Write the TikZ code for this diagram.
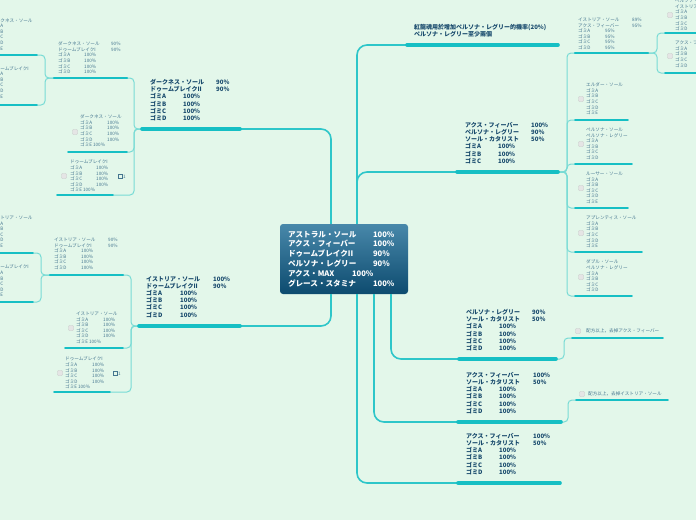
\documentclass[tikz,border=0pt]{standalone}
\usepackage{fontspec}
\setmainfont{Noto Sans CJK JP}
\usepackage{tikz}

\definecolor{mint}{HTML}{E3F7EA}
\definecolor{tealbar}{HTML}{16BFC4}
\definecolor{teallink}{HTML}{2EC6C9}
\definecolor{tealsub}{HTML}{78DBD5}
\definecolor{ink}{HTML}{17496C}
\definecolor{inklight}{HTML}{44758F}
\newcommand{\kv}[3]{\makebox[#1pt][l]{#2}#3}

\begin{document}
\begin{tikzpicture}[x=1pt, y=-1pt,
    hub/.style={rounded corners=3pt, top color={rgb,255:red,72;green,136;blue,170}, bottom color={rgb,255:red,13;green,75;blue,111},
      text=white, font=\fontsize{7.6}{9.8}\selectfont\bfseries, align=left, text width=112pt, inner xsep=8pt, minimum height=70pt},
    topic/.style={anchor=north west, inner sep=0, align=left, text=ink, font=\fontsize{6}{7.2}\selectfont\bfseries},
    leaf/.style={anchor=north west, inner sep=0, align=left, text=inklight, font=\fontsize{4.6}{5.6}\selectfont},
    bar/.style={line width=3.6pt, tealbar, line cap=round},
    subbar/.style={line width=2.4pt, tealbar, line cap=round},
    twig/.style={line width=1.8pt, tealbar, line cap=round},
    link/.style={line width=1.6pt, teallink, rounded corners=10pt},
    sublink/.style={line width=1pt, tealsub, rounded corners=4pt},
    tick/.style={draw=black!22, fill=black!10, rounded corners=0.8pt, minimum size=5pt, inner sep=0},
    memo/.style={draw=inklight, line width=0.4pt, inner sep=0, minimum width=4pt, minimum height=3.4pt}]

  % Background
  \fill[mint] (0,0) rectangle (696,520);
  \useasboundingbox (0,0) rectangle (696,520);

  % Central topic
  \node[hub] (hub) at (344,259) {\kv{85}{アストラル・ソール}{100\%}\\ \kv{85}{アクス・フィーバー}{100\%}\\
    \kv{85}{ドゥームブレイクII}{90\%}\\ \kv{85}{ペルソナ・レグリー}{90\%}\\ \kv{64}{アクス・MAX}{100\%}\\
    \kv{85}{グレース・スタミナ}{100\%}};

  % Underline end points
  \coordinate (dk-w) at (142,129);  \coordinate (dk-e) at (240,129);
  \coordinate (is-w) at (139,326);  \coordinate (is-e) at (240,326);
  \coordinate (rd-w) at (407,45);   \coordinate (rd-e) at (558,45);
  \coordinate (ax1-w) at (457,172); \coordinate (ax1-e) at (558,172);
  \coordinate (ps-w) at (459,359);  \coordinate (ps-e) at (556,359);
  \coordinate (ax2-w) at (458,422); \coordinate (ax2-e) at (561,422);
  \coordinate (ax3-w) at (458,483); \coordinate (ax3-e) at (560,483);
  \coordinate (d1-w) at (54,78);    \coordinate (d1-e) at (127,78);
  \coordinate (d2-w) at (68,152);   \coordinate (d2-e) at (127,152);
  \coordinate (d3-w) at (57,195);   \coordinate (d3-e) at (113,195);
  \coordinate (f1-w) at (-10,55);   \coordinate (f1-e) at (37,55);
  \coordinate (f2-w) at (-10,105);  \coordinate (f2-e) at (37,105);
  \coordinate (i1-w) at (50,275);   \coordinate (i1-e) at (123,275);
  \coordinate (i2-w) at (65,348);   \coordinate (i2-e) at (123,348);
  \coordinate (i3-w) at (54,392);   \coordinate (i3-e) at (110,392);
  \coordinate (g1-w) at (-10,253);  \coordinate (g1-e) at (33,253);
  \coordinate (g2-w) at (-10,302);  \coordinate (g2-e) at (33,302);
  \coordinate (s0-w) at (575,53);   \coordinate (s0-e) at (648,53);
  \coordinate (s1-w) at (575,120);  \coordinate (s1-e) at (628,120);
  \coordinate (s2-w) at (575,164);  \coordinate (s2-e) at (632,164);
  \coordinate (s3-w) at (575,208);  \coordinate (s3-e) at (628,208);
  \coordinate (s4-w) at (575,252);  \coordinate (s4-e) at (642,252);
  \coordinate (s5-w) at (575,296);  \coordinate (s5-e) at (632,296);
  \coordinate (t1-w) at (665,33);   \coordinate (t1-e) at (706,33);
  \coordinate (t2-w) at (665,73);   \coordinate (t2-e) at (706,73);
  \coordinate (n1-w) at (572,338);  \coordinate (n1-e) at (663,338);
  \coordinate (n2-w) at (576,400);  \coordinate (n2-e) at (668,400);

  % Links from the central topic
  \draw[link] ([xshift=-13pt]hub.north) |- (dk-e);
  \draw[link] ([xshift=13pt]hub.north) |- (ax1-w);
  \draw[link] ([xshift=13pt]hub.north) |- (rd-w);
  \draw[link] ([xshift=-13pt]hub.south) |- (is-e);
  \draw[link] ([xshift=13pt]hub.south) |- (ax3-w);
  \draw[link] ([xshift=30pt]hub.south) |- (ax2-w);
  \draw[link] ([xshift=47pt]hub.south) |- (ps-w);

  % Links to subtopics
  \draw[sublink] (dk-w) -- ++(-8,0) |- (d1-e);
  \draw[sublink] (dk-w) -- ++(-8,0) |- (d2-e);
  \draw[sublink] (dk-w) -- ++(-8,0) |- (d3-e);
  \draw[sublink] (d1-w) -- ++(-9,0) |- (f1-e);
  \draw[sublink] (d1-w) -- ++(-9,0) |- (f2-e);
  \draw[sublink] (is-w) -- ++(-8,0) |- (i1-e);
  \draw[sublink] (is-w) -- ++(-8,0) |- (i2-e);
  \draw[sublink] (is-w) -- ++(-8,0) |- (i3-e);
  \draw[sublink] (i1-w) -- ++(-9,0) |- (g1-e);
  \draw[sublink] (i1-w) -- ++(-9,0) |- (g2-e);
  \draw[sublink] (ax1-e) -- ++(9,0) |- (s0-w);
  \draw[sublink] (ax1-e) -- ++(9,0) |- (s1-w);
  \draw[sublink] (ax1-e) -- ++(9,0) |- (s2-w);
  \draw[sublink] (ax1-e) -- ++(9,0) |- (s3-w);
  \draw[sublink] (ax1-e) -- ++(9,0) |- (s4-w);
  \draw[sublink] (ax1-e) -- ++(9,0) |- (s5-w);
  \draw[sublink] (s0-e) -- ++(9,0) |- (t1-w);
  \draw[sublink] (s0-e) -- ++(9,0) |- (t2-w);
  \draw[sublink] (ps-e) -- ++(8,0) |- (n1-w);
  \draw[sublink] (ax2-e) -- ++(7,0) |- (n2-w);

  % Underlines
  \draw[bar] (dk-w) -- (dk-e);
  \draw[bar] (is-w) -- (is-e);
  \draw[bar] (rd-w) -- (rd-e);
  \draw[bar] (ax1-w) -- (ax1-e);
  \draw[bar] (ps-w) -- (ps-e);
  \draw[bar] (ax2-w) -- (ax2-e);
  \draw[bar] (ax3-w) -- (ax3-e);
  \draw[subbar] (d1-w) -- (d1-e);
  \draw[subbar] (i1-w) -- (i1-e);
  \draw[subbar] (s0-w) -- (s0-e);
  \draw[twig] (d2-w) -- (d2-e);   \draw[twig] (d3-w) -- (d3-e);
  \draw[twig] (f1-w) -- (f1-e);   \draw[twig] (f2-w) -- (f2-e);
  \draw[twig] (i2-w) -- (i2-e);   \draw[twig] (i3-w) -- (i3-e);
  \draw[twig] (g1-w) -- (g1-e);   \draw[twig] (g2-w) -- (g2-e);
  \draw[twig] (s1-w) -- (s1-e);   \draw[twig] (s2-w) -- (s2-e);
  \draw[twig] (s3-w) -- (s3-e);   \draw[twig] (s4-w) -- (s4-e);
  \draw[twig] (s5-w) -- (s5-e);   \draw[twig] (t1-w) -- (t1-e);
  \draw[twig] (t2-w) -- (t2-e);   \draw[twig] (n1-w) -- (n1-e);
  \draw[twig] (n2-w) -- (n2-e);

  % Main topics
  \node[topic] (rd) at (414,24) {紅龍魂用於增加ペルソナ・レグリー的機率(20\%)\\ ペルソナ・レグリー至少兩個};
  \node[topic] (dk) at (150,79) {\kv{66}{ダークネス・ソール}{90\%}\\ \kv{66}{ドゥームブレイクII}{90\%}\\
    \kv{33}{ゴミA}{100\%}\\ \kv{33}{ゴミB}{100\%}\\ \kv{33}{ゴミC}{100\%}\\ \kv{33}{ゴミD}{100\%}};
  \node[topic] (is) at (146,276) {\kv{67}{イストリア・ソール}{100\%}\\ \kv{67}{ドゥームブレイクII}{90\%}\\
    \kv{34}{ゴミA}{100\%}\\ \kv{34}{ゴミB}{100\%}\\ \kv{34}{ゴミC}{100\%}\\ \kv{34}{ゴミD}{100\%}};
  \node[topic] (ax1) at (465,122) {\kv{66}{アクス・フィーバー}{100\%}\\ \kv{66}{ペルソナ・レグリー}{90\%}\\
    \kv{66}{ソール・カタリスト}{50\%}\\ \kv{33}{ゴミA}{100\%}\\ \kv{33}{ゴミB}{100\%}\\ \kv{33}{ゴミC}{100\%}};
  \node[topic] (ps) at (466,309) {\kv{66}{ペルソナ・レグリー}{90\%}\\ \kv{66}{ソール・カタリスト}{50\%}\\
    \kv{33}{ゴミA}{100\%}\\ \kv{33}{ゴミB}{100\%}\\ \kv{33}{ゴミC}{100\%}\\ \kv{33}{ゴミD}{100\%}};
  \node[topic] (ax2) at (466,372) {\kv{67}{アクス・フィーバー}{100\%}\\ \kv{67}{ソール・カタリスト}{50\%}\\
    \kv{33}{ゴミA}{100\%}\\ \kv{33}{ゴミB}{100\%}\\ \kv{33}{ゴミC}{100\%}\\ \kv{33}{ゴミD}{100\%}};
  \node[topic] (ax3) at (466,433) {\kv{67}{アクス・フィーバー}{100\%}\\ \kv{67}{ソール・カタリスト}{50\%}\\
    \kv{33}{ゴミA}{100\%}\\ \kv{33}{ゴミB}{100\%}\\ \kv{33}{ゴミC}{100\%}\\ \kv{33}{ゴミD}{100\%}};

  % Subtopics, left
  \node[leaf] (d1) at (58,41.7) {\kv{53}{ダークネス・ソール}{90\%}\\ \kv{53}{ドゥームブレイクI}{90\%}\\
    \kv{26}{ゴミA}{100\%}\\ \kv{26}{ゴミB}{100\%}\\ \kv{26}{ゴミC}{100\%}\\ \kv{26}{ゴミD}{100\%}};
  \node[leaf] (d2) at (80,114.7) {ダークネス・ソール\\ \kv{27}{ゴミA}{100\%}\\ \kv{27}{ゴミB}{100\%}\\
    \kv{27}{ゴミC}{100\%}\\ \kv{27}{ゴミD}{100\%}\\ ゴミE 100\%};
  \node[leaf] (d3) at (70,159.7) {ドゥームブレイクI\\ \kv{26}{ゴミA}{100\%}\\ \kv{26}{ゴミB}{100\%}\\
    \kv{26}{ゴミC}{100\%}\\ \kv{26}{ゴミD}{100\%}\\ ゴミE 100\%};
  \node[leaf] (f1) at (-9,12.7) {1号\\ ダークネス・ソール\\ ゴミA\\ ゴミB\\ ゴミC\\ ゴミD\\ ゴミE};
  \node[leaf] (f2) at (-9,60.7) {2号\\ ドゥームブレイクI\\ ゴミA\\ ゴミB\\ ゴミC\\ ゴミD\\ ゴミE};
  \node[leaf] (i1) at (54,237.7) {\kv{54}{イストリア・ソール}{90\%}\\ \kv{54}{ドゥームブレイクI}{90\%}\\
    \kv{27}{ゴミA}{100\%}\\ \kv{27}{ゴミB}{100\%}\\ \kv{27}{ゴミC}{100\%}\\ \kv{27}{ゴミD}{100\%}};
  \node[leaf] (i2) at (76,311.7) {イストリア・ソール\\ \kv{27}{ゴミA}{100\%}\\ \kv{27}{ゴミB}{100\%}\\
    \kv{27}{ゴミC}{100\%}\\ \kv{27}{ゴミD}{100\%}\\ ゴミE 100\%};
  \node[leaf] (i3) at (65,356.7) {ドゥームブレイクI\\ \kv{27}{ゴミA}{100\%}\\ \kv{27}{ゴミB}{100\%}\\
    \kv{27}{ゴミC}{100\%}\\ \kv{27}{ゴミD}{100\%}\\ ゴミE 100\%};
  \node[leaf] (g1) at (-9,215.7) {イストリア・ソール\\ ゴミA\\ ゴミB\\ ゴミC\\ ゴミD\\ ゴミE};
  \node[leaf] (g2) at (-9,264.7) {ドゥームブレイクI\\ ゴミA\\ ゴミB\\ ゴミC\\ ゴミD\\ ゴミE};

  % Subtopics, right
  \node[leaf] (s0) at (578,17.7) {\kv{54}{イストリア・ソール}{89\%}\\ \kv{54}{アクス・フィーバー}{95\%}\\
    \kv{27}{ゴミA}{95\%}\\ \kv{27}{ゴミB}{95\%}\\ \kv{27}{ゴミC}{95\%}\\ \kv{27}{ゴミD}{95\%}};
  \node[leaf] (s1) at (586,82.7) {エルダー・ソール\\ ゴミA\\ ゴミB\\ ゴミC\\ ゴミD\\ ゴミE};
  \node[leaf] (s2) at (586,127.7) {ペルソナ・ソール\\ ペルソナ・レグリー\\ ゴミA\\ ゴミB\\ ゴミC\\ ゴミD};
  \node[leaf] (s3) at (586,171.7) {ルーサー・ソール\\ ゴミA\\ ゴミB\\ ゴミC\\ ゴミD\\ ゴミE};
  \node[leaf] (s4) at (586,215.7) {アプレンティス・ソール\\ ゴミA\\ ゴミB\\ ゴミC\\ ゴミD\\ ゴミE};
  \node[leaf] (s5) at (586,259.7) {ダブル・ソール\\ ペルソナ・レグリー\\ ゴミA\\ ゴミB\\ ゴミC\\ ゴミD};
  \node[leaf] (t1) at (675,-1.3) {ペルソナ・レグリー\\ イストリア・ソール\\ ゴミA\\ ゴミB\\ ゴミC\\ ゴミD};
  \node[leaf] (t2) at (675,40.7) {アクス・フィーバー\\ ゴミA\\ ゴミB\\ ゴミC\\ ゴミD};
  \node[leaf, anchor=west] (n1) at (586,331) {配方以上，去掉アクス・フィーバー};
  \node[leaf, anchor=west] (n2) at (588,394) {配方以上，去掉イストリア・ソール};

  % Check boxes and notes
  \node[tick] (d2-box) at (75,132) {};
  \node[tick] (d3-box) at (64,176) {};
  \node[tick] (i2-box) at (71,328) {};
  \node[tick] (i3-box) at (60,373) {};
  \node[tick] (s1-box) at (581,99) {};
  \node[tick] (s2-box) at (581,144) {};
  \node[tick] (s3-box) at (581,188) {};
  \node[tick] (s4-box) at (581,233) {};
  \node[tick] (s5-box) at (581,277) {};
  \node[tick] (t1-box) at (670,15) {};
  \node[tick] (t2-box) at (670,56) {};
  \node[tick] (n1-box) at (578,331) {};
  \node[tick] (n2-box) at (582,394) {};
  \node[memo] (d3-memo) at (120,176) {};
  \node[leaf, anchor=west] (d3-count) at (123,176.5) {1};
  \node[memo] (i3-memo) at (115,373) {};
  \node[leaf, anchor=west] (i3-count) at (118,373.5) {1};

\end{tikzpicture}
\end{document}
